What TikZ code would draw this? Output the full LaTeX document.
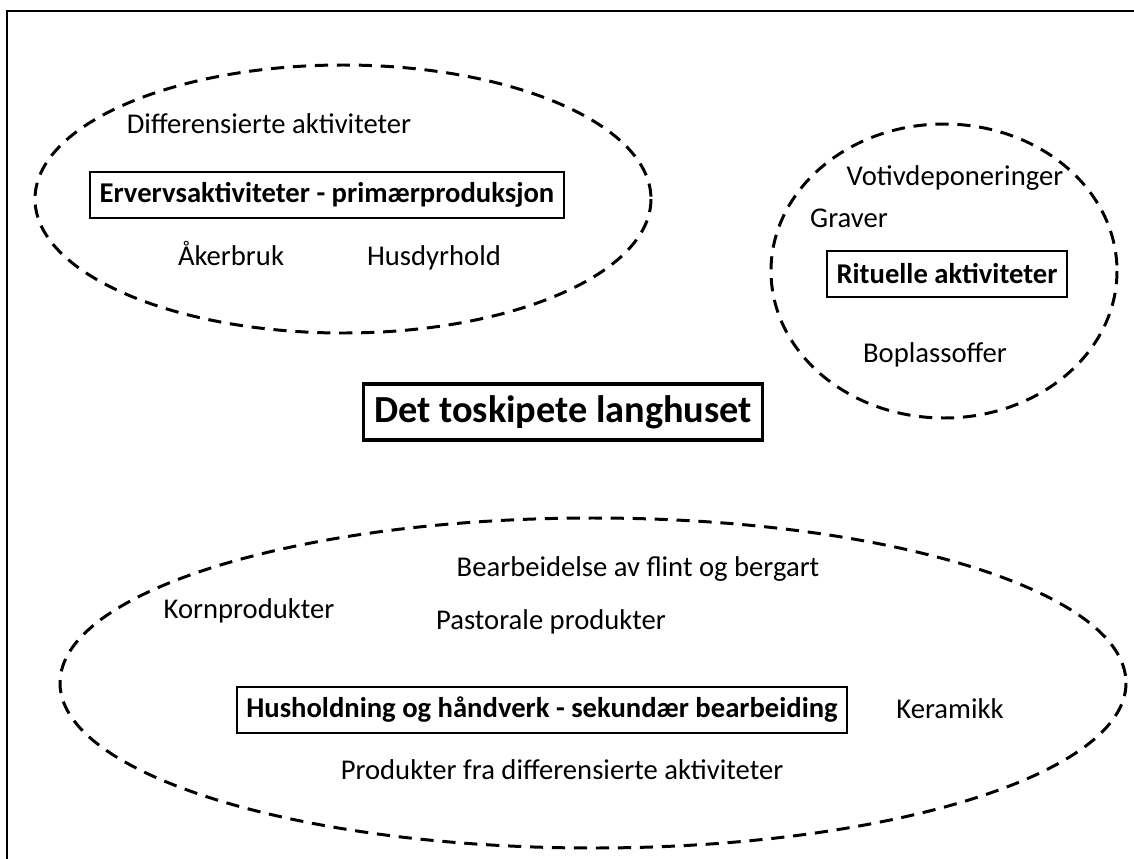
\documentclass[tikz,border=0pt]{standalone}
\usepackage{fontspec}
\setmainfont{Carlito}
\usetikzlibrary{positioning}

\begin{document}
\begin{tikzpicture}
% Style
[
    x=0.02cm, y=-0.02cm, line cap=butt,
    zone/.style={line width=1.7pt, dash pattern=on 7.5pt off 5pt},
    item text/.style={inner sep=0pt, text height=12pt, text depth=3.5pt, font=\fontsize{16.3}{19}\selectfont},
    key box/.style={draw, line width=1.3pt, inner xsep=5.5pt, minimum height=26pt, font=\bfseries\fontsize{16.3}{19}\selectfont},
    main box/.style={draw, line width=2pt, inner xsep=6pt, minimum height=32pt, font=\bfseries\fontsize{21.8}{25}\selectfont}
]

%================================== Frame ==================================
\useasboundingbox (0,0) rectangle (1134,859);
\clip (0,0) rectangle (1134,859);
\draw[line width=1.2pt] (7,11) rectangle (1150,880);

%=================================== Start ===================================
{
    % Draw: Zones
    \coordinate (primary) at (343,199);
    \coordinate (ritual) at (944,271);
    \coordinate (household) at (593,683);
    \draw[zone] (primary) ellipse [x radius=308, y radius=134];
    \draw[zone] (ritual) ellipse [x radius=173, y radius=147];
    \draw[zone] (household) ellipse [x radius=533, y radius=165];

    % Draw: Centre
    \node[main box] (house) at (563,412) {Det toskipete langhuset};

    % Draw: Primary production
    \node[key box] (erverv) at (327,195) {Ervervsaktiviteter - primærproduksjon};
    \node[item text] (diff) at (269,126) {Differensierte aktiviteter};
    \node[item text] (aker) at (231,258) {Åkerbruk};
    \node[item text] (husdyr) at (434,258) {Husdyrhold};

    % Draw: Ritual
    \node[key box] (rituelle) at (947,274) {Rituelle aktiviteter};
    \node[item text] (votiv) at (955,178) {Votivdeponeringer};
    \node[item text] (graver) at (849,220) {Graver};
    \node[item text] (boplass) at (935,355) {Boplassoffer};

    % Draw: Household and crafts
    \node[key box] (hushold) at (542,710) {Husholdning og håndverk - sekundær bearbeiding};
    \node[item text] (flint) at (638,569) {Bearbeidelse av flint og bergart};
    \node[item text] (korn) at (249,611) {Kornprodukter};
    \node[item text] (pastoral) at (551,622) {Pastorale produkter};
    \node[item text] (keramikk) at (950,711) {Keramikk};
    \node[item text] (prodiff) at (562,772) {Produkter fra differensierte aktiviteter};
}
%==================================== END ====================================

\end{tikzpicture}
\end{document}
